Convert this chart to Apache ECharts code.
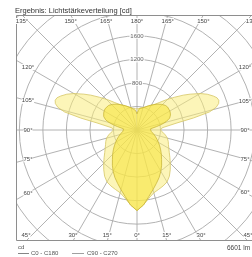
<!DOCTYPE html>
<html>
<head>
<meta charset="utf-8">
<script src="https://cdn.jsdelivr.net/npm/echarts@6/dist/echarts.min.js"></script>
<style>
  html, body { margin: 0; padding: 0; width: 252px; height: 257px; overflow: hidden; background: #fff; }
  #bg { position: absolute; left: 0; top: 0; width: 252px; height: 257px; }
  #plot { position: absolute; left: 16px; top: 15px; width: 241px; height: 226px; }
</style>
</head>
<body>
<div id="bg"></div>
<div id="plot"></div>
<script>
// gamma angles (0 = nadir, 180 = zenith)
const gammas = [0, 5, 10, 15, 20, 25, 30, 35, 40, 45, 50, 55, 60, 65, 70, 75, 80, 85, 90,
  95, 100, 102, 104, 106, 108, 110, 112, 114, 117, 120, 124, 127, 131, 136, 141, 147, 155, 165, 170, 173, 176, 180]

// intensities in cd
const c0c180 = [1370, 1280, 1150, 1050, 965, 890, 810, 730, 650, 585, 525, 470, 420, 375, 335, 300, 270, 240, 210,
  230, 340, 400, 460, 515, 560, 590, 610, 622, 635, 645, 652, 650, 638, 605, 565, 515, 455, 390, 360, 372, 330, 275]
const c90c270 = [1370, 1275, 1175, 1105, 1075, 1050, 1020, 960, 880, 800, 730, 670, 625, 590, 565, 535, 490, 440, 400,
  430, 690, 980, 1270, 1400, 1460, 1480, 1465, 1420, 1340, 1240, 1090, 985, 850, 715, 600, 510, 445, 395, 375, 368, 362, 360]

const angleTicks = [0, 15, 30, 45, 60, 75, 90, 105, 120, 135, 150, 165, 180]
const radiusTicks = [800, 1200, 1600]
const seriesNames = ['C0 - C180', 'C90 - C270']
const fluxText = '6601 lm'

// plot box (inside #plot)
const W = 241, H = 226
const cx = 121, cy = 115
const cdPerPx = 17
const rMax = 3200

// axis angle: 0 at top, clockwise. right half = 180 - g, left half = 180 + g
function polarData(vals) {
  const right = gammas.map((g, i) => [vals[i], 180 - g]).reverse()
  const left = gammas.map((g, i) => [vals[i], 180 + g])
  return right.concat(left)
}

// angle labels where the spokes meet the frame
function angleLabels() {
  const out = []
  angleTicks.forEach(g => {
    const sides = (g === 0 || g === 180) ? [1] : [-1, 1]
    sides.forEach(s => {
      const rad = g * Math.PI / 180
      const dx = s * Math.sin(rad), dy = Math.cos(rad)
      const tx = Math.abs(dx) < 1e-6 ? Infinity : (dx > 0 ? (W - cx) : cx) / Math.abs(dx)
      const ty = Math.abs(dy) < 1e-6 ? Infinity : (dy > 0 ? (H - cy) : cy) / Math.abs(dy)
      let x, y
      if (ty <= tx) {
        x = cx + dx * ty
        y = dy > 0 ? H - 6 : 6
      } else {
        x = dx > 0 ? W - 12 : 12
        y = cy + dy * (Math.abs(x - cx) / Math.abs(dx))
      }
      out.push({
        type: 'text', x: x, y: y, z: 10,
        style: { text: g + '°', fontSize: 6, fill: '#444', align: 'center', verticalAlign: 'middle',
          fontFamily: 'Liberation Sans, Arial, sans-serif', backgroundColor: '#fff' }
      })
    })
  })
  return out
}

const plot = echarts.init(document.getElementById('plot'))
plot.setOption({
  animation: false,
  polar: { center: [cx, cy], radius: rMax / cdPerPx },
  angleAxis: {
    type: 'value', min: 0, max: 360, interval: 15, startAngle: 90, clockwise: true,
    axisLine: { show: false }, axisTick: { show: false }, axisLabel: { show: false },
    splitLine: { lineStyle: { color: '#a9a9a9', width: 0.9 } }
  },
  radiusAxis: {
    type: 'value', min: 0, max: rMax, interval: 400,
    axisLine: { show: false }, axisTick: { show: false }, axisLabel: { show: false },
    splitLine: { lineStyle: { color: '#a9a9a9', width: 0.9 } }
  },
  series: [
    {
      name: seriesNames[1], type: 'line', coordinateSystem: 'polar',
      data: polarData(c90c270), symbol: 'none', z: 2,
      lineStyle: { color: '#d6c766', width: 0.8 },
      areaStyle: { color: 'rgba(249,236,120,0.75)' }
    },
    {
      name: seriesNames[0], type: 'line', coordinateSystem: 'polar',
      data: polarData(c0c180), symbol: 'none', z: 3,
      lineStyle: { color: '#c9b63a', width: 0.8 },
      areaStyle: { color: 'rgba(247,228,55,0.8)' }
    },
    {
      type: 'scatter', coordinateSystem: 'polar', silent: true, symbolSize: 0, z: 5,
      data: radiusTicks.map(r => [r, 0]),
      label: {
        show: true, position: 'inside', formatter: p => p.value[0],
        fontSize: 6, color: '#444', backgroundColor: '#fff', padding: [0, 1],
        fontFamily: 'Liberation Sans, Arial, sans-serif'
      }
    }
  ],
  graphic: [
    { type: 'rect', shape: { x: 0.5, y: 0.5, width: W - 1, height: H - 1 }, z: 9,
      style: { fill: 'none', stroke: '#8e8e8e', lineWidth: 1 } }
  ].concat(angleLabels())
})

const bg = echarts.init(document.getElementById('bg'))
const font = 'Liberation Sans, Arial, sans-serif'
bg.setOption({
  animation: false,
  graphic: [
    { type: 'text', x: 15, y: 10.5, style: { text: 'Ergebnis: Lichtstärkeverteilung [cd]', fontSize: 7.5, fill: '#333', verticalAlign: 'middle', fontFamily: font } },
    { type: 'text', x: 18, y: 247, style: { text: 'cd', fontSize: 6, fill: '#555', verticalAlign: 'middle', fontFamily: font } },
    { type: 'line', shape: { x1: 18, y1: 253.5, x2: 29, y2: 253.5 }, style: { stroke: '#666', lineWidth: 0.8 } },
    { type: 'text', x: 31, y: 253.5, style: { text: seriesNames[0], fontSize: 6, fill: '#555', verticalAlign: 'middle', fontFamily: font } },
    { type: 'line', shape: { x1: 72, y1: 253.5, x2: 84, y2: 253.5 }, style: { stroke: '#888', lineWidth: 0.8 } },
    { type: 'text', x: 87, y: 253.5, style: { text: seriesNames[1], fontSize: 6, fill: '#555', verticalAlign: 'middle', fontFamily: font } },
    { type: 'text', x: 227, y: 248, style: { text: fluxText, fontSize: 6.5, fill: '#444', verticalAlign: 'middle', fontFamily: font } }
  ]
})
</script>
</body>
</html>
